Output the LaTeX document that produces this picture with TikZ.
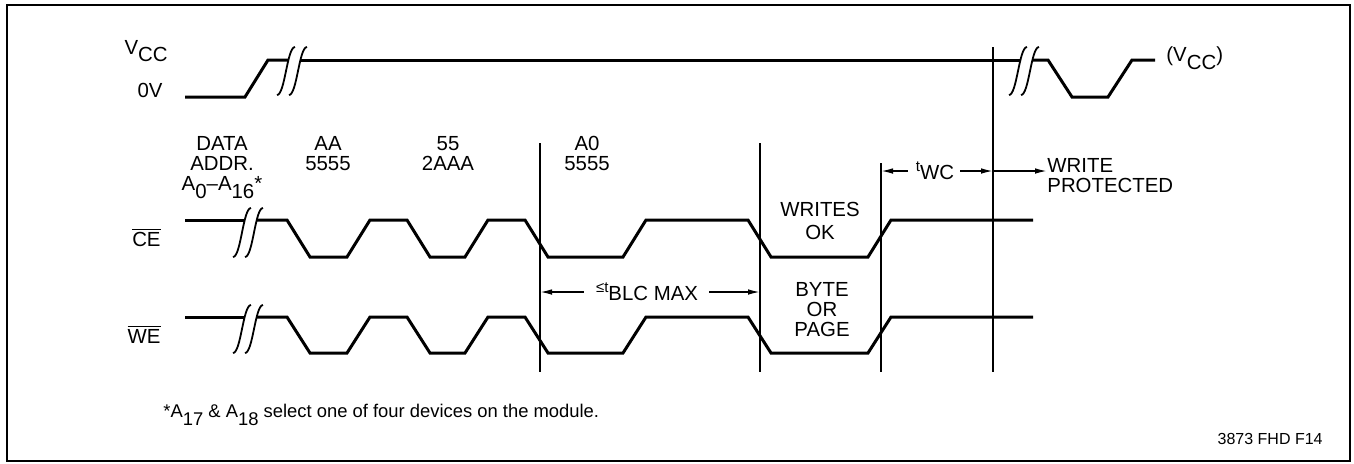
\documentclass[tikz,border=0pt]{standalone}
\usepackage{fontspec}
\setmainfont{Liberation Sans}
\usetikzlibrary{arrows.meta,positioning}
\newcommand{\lo}[1]{\raisebox{-3.8pt}{#1}}
\newcommand{\pre}[1]{{\fontsize{7.5}{8}\selectfont #1}}
\newcommand{\brkmark}[3]{\draw[brk] (#1,#3) .. controls (#1+8,#3) and (#1+10,#2) .. (#1+18,#2);}

\begin{document}
\begin{tikzpicture}[x=0.5pt, y=-0.5pt, >={Latex[length=6pt,width=2.8pt]},
  sig/.style={line width=1.5pt, line join=miter},
  brk/.style={line width=0.9pt},
  guide/.style={line width=0.75pt},
  dim/.style={line width=0.75pt, ->},
  lab/.style={font=\fontsize{10.2}{10}\selectfont, align=center, inner sep=0pt},
  note/.style={font=\fontsize{9.2}{10}\selectfont, inner sep=0pt},
  tag/.style={font=\fontsize{8}{9}\selectfont, inner sep=0pt}]
\useasboundingbox (0,0) rectangle (1354,463);
\fill[white] (0,0) rectangle (1354,463);
\draw[guide] (7,5) rectangle (1350,461);
% supply
\draw[sig] (185,97) -- (245,97) -- (268,60) -- (288,60);
\draw[sig] (300,60) -- (1020,60);
\draw[sig] (1032,60) -- (1048,60) -- (1072,97) -- (1108,97) -- (1132,60) -- (1155,60);
\foreach \x in {277,289,1009,1021} {\brkmark{\x}{47}{95}}
\node[lab, anchor=east] (vcc) at (168,51) {V\lo{CC}};
\node[lab, anchor=east] (zero) at (163,90) {0V};
\node[lab, anchor=west] (vccr) at (1166,58) {(V\lo{CC})};
% control lines
\foreach \n/\H/\L in {CE/220/257,WE/317/353} {
  \draw[sig] (185,\H) -- (245,\H);
  \draw[sig] (257,\H) -- (287,\H) -- (310,\L) -- (347,\L) -- (370,\H) -- (407,\H) -- (430,\L) -- (465,\L) -- (488,\H) -- (525,\H) -- (548,\L) -- (623,\L) -- (646,\H) -- (748,\H) -- (771,\L) -- (868,\L) -- (891,\H) -- (1033,\H);
  \brkmark{233}{\H-12}{\L}
  \brkmark{245}{\H-12}{\L}
  \node[lab, anchor=east] (\n) at (161,\H+17) {$\overline{\mbox{\n}}$};
}
% markers
\foreach \m/\x/\t in {m1/540/143,m2/760/143,m3/881/163,m4/993/47} {
  \coordinate (\m t) at (\x,\t);
  \coordinate (\m b) at (\x,372);
  \draw[guide] (\m t) -- (\m b);
}
\node[lab, anchor=north] (addr) at (222,136) {DATA\\ADDR.\\A\lo{0}–A\lo{16}*};
\node[lab, anchor=north] (cmd1) at (328,136) {AA\\5555};
\node[lab, anchor=north] (cmd2) at (448,136) {55\\2AAA};
\node[lab, anchor=north] (cmd3) at (587,136) {A0\\5555};
\node[lab, anchor=north] (wok) at (820,202) {WRITES\\[1.5pt]OK};
\node[lab, anchor=north] (bop) at (822,282) {BYTE\\OR\\PAGE};
\node[lab] (blc) at (647,292) {\pre{≤t}\lo{BLC MAX}};
\draw[dim] ([xshift=-6pt]blc.west) -- (blc.west -| m1t);
\draw[dim] ([xshift=5.5pt]blc.east) -- (blc.east -| m2t);
\node[lab] (twc) at (935,171) {\pre{t}\lo{WC}};
\draw[dim] ([xshift=-4pt]twc.west) -- (twc.west -| m3t);
\draw[dim] ([xshift=3pt]twc.east) -- (twc.east -| m4t);
\node[lab, anchor=north west, align=left] (wp) at (1047,158) {WRITE\\PROTECTED};
\draw[dim] (twc.east -| m4t) -- (twc.east -| wp.west);
\node[note, anchor=west] (fn) at (163,415) {*A\lo{17} \& A\lo{18} select one of four devices on the module.};
\node[tag, anchor=east] (fig) at (1323,439) {3873 FHD F14};
\end{tikzpicture}
\end{document}
